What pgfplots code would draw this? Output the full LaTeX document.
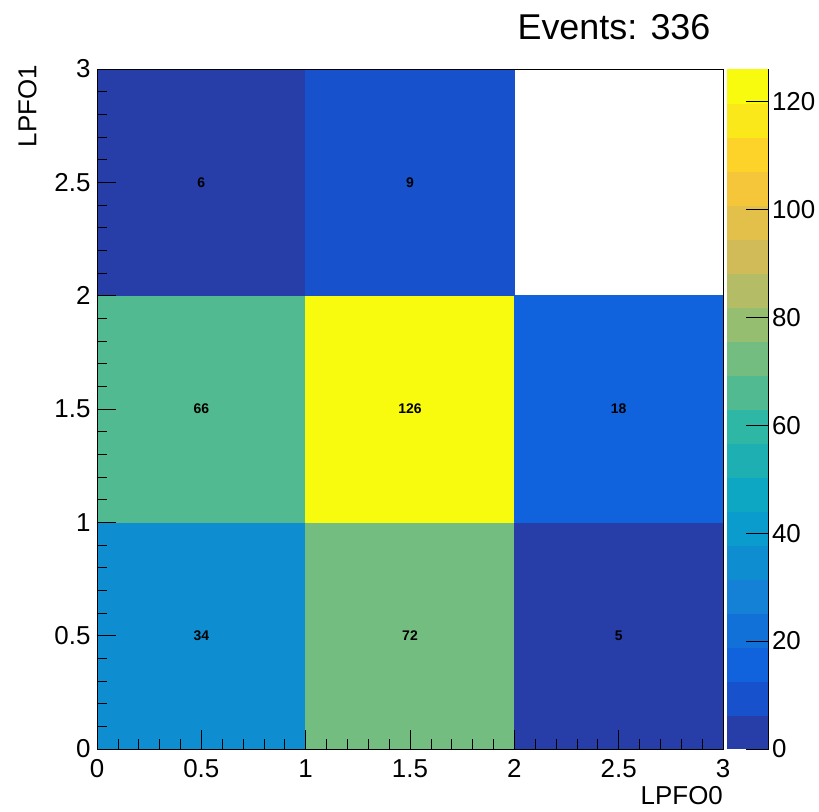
\documentclass[border=0pt]{standalone}
\usepackage{fontspec}
\setmainfont{Liberation Sans}
\usepackage{pgfplots}
\pgfplotsset{compat=1.18}
\usepgfplotslibrary{patchplots}
\pgfplotsset{colormap={rootbird}{
rgb=(0.1522,0.2392,0.6568)
rgb=(0.0909,0.3187,0.7962)
rgb=(0.0630,0.3887,0.8624)
rgb=(0.0700,0.4430,0.8512)
rgb=(0.0777,0.5018,0.8390)
rgb=(0.0565,0.5581,0.8200)
rgb=(0.0359,0.6099,0.8023)
rgb=(0.0521,0.6559,0.7640)
rgb=(0.1161,0.6868,0.7033)
rgb=(0.1802,0.7178,0.6425)
rgb=(0.3230,0.7306,0.5706)
rgb=(0.4545,0.7424,0.5043)
rgb=(0.5878,0.7459,0.4429)
rgb=(0.7055,0.7392,0.3955)
rgb=(0.8214,0.7337,0.3475)
rgb=(0.8880,0.7537,0.2899)
rgb=(0.9602,0.7755,0.2274)
rgb=(0.9915,0.8288,0.1659)
rgb=(0.9836,0.9091,0.1076)
rgb=(0.9764,0.9832,0.0539)
}}
\newcommand{\lblfont}{\fontsize{26}{30}\selectfont}
\begin{document}
\begin{tikzpicture}
\begin{axis}[
  at={(97bp,63bp)}, anchor=south west,
  scale only axis, width=626bp, height=680bp,
  xmin=0, xmax=3, ymin=0, ymax=3, enlargelimits=false,
  xtick={0,0.5,1,1.5,2,2.5,3}, ytick={0,0.5,1,1.5,2,2.5,3},
  minor tick num=4,
  tick align=inside, tick pos=left,
  major tick length=19bp, minor tick length=9.5bp,
  tick style={black, line width=0.7bp},
  axis line style={line width=0.7bp},
  tick label style={font=\lblfont},
  /pgf/number format/assume math mode=true,
  xticklabel style={yshift=-7bp},
  yticklabel style={xshift=-3bp},
  axis on top,
  colormap name=rootbird,
  colormap access=piecewise constant,
  point meta min=0, point meta max=126,
  colorbar,
  colorbar style={
    at={(parent axis.south east)}, anchor=south west, xshift=-5bp,
    scale only axis, width=42bp, height=680bp,
    ytick={0,20,40,60,80,100,120},
    axis x line=none,
    axis y line*=right,
    tick align=inside,
    major tick length=23bp,
    tick style={black, line width=0.7bp},
    axis line style={line width=0.7bp},
    yticklabel pos=right,
    yticklabel style={font=\lblfont, xshift=0bp, /pgf/number format/assume math mode=true},
  },
  xlabel={LPFO0},
  xlabel style={at={(rel axis cs:1,0)}, anchor=north east, inner sep=0pt, yshift=-37bp, font=\lblfont},
]
\addplot[patch, patch type=rectangle, shader=flat, point meta=explicit] coordinates {
(0,0)[34] (1,0)[34] (1,1)[34] (0,1)[34]
(1,0)[72] (2,0)[72] (2,1)[72] (1,1)[72]
(2,0)[5] (3,0)[5] (3,1)[5] (2,1)[5]
(0,1)[66] (1,1)[66] (1,2)[66] (0,2)[66]
(1,1)[126] (2,1)[126] (2,2)[126] (1,2)[126]
(2,1)[18] (3,1)[18] (3,2)[18] (2,2)[18]
(0,2)[6] (1,2)[6] (1,3)[6] (0,3)[6]
(1,2)[9] (2,2)[9] (2,3)[9] (1,3)[9]
};
\addplot[only marks, mark=none, draw=none, point meta=explicit symbolic,
  nodes near coords, nodes near coords align={center},
  every node near coord/.append style={font=\fontsize{14}{16}\selectfont\bfseries, text=black, inner sep=0pt}]
coordinates {
(0.5,0.5)[34] (1.5,0.5)[72] (2.5,0.5)[5]
(0.5,1.5)[66] (1.5,1.5)[126] (2.5,1.5)[18]
(0.5,2.5)[6] (1.5,2.5)[9]
};
\end{axis}
\node[rotate=90, anchor=north east, inner sep=0pt, font=\lblfont] at (18bp,747bp) {LPFO1};
\node[inner sep=0pt, font=\fontsize{36}{40}\selectfont] at (614bp,785bp) {Events: 336};
\pgfresetboundingbox
\path[use as bounding box] (0,0) rectangle (819bp,812bp);
\end{tikzpicture}
\end{document}
